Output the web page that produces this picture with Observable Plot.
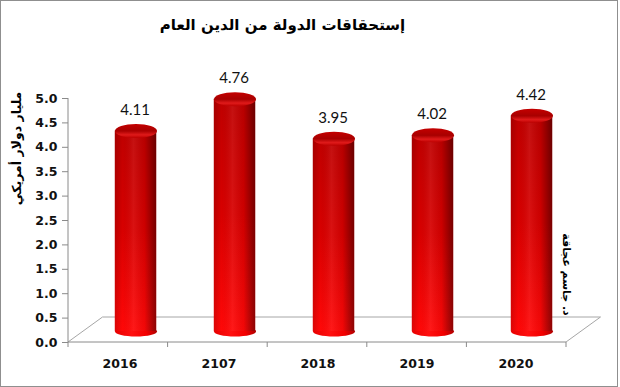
<!DOCTYPE html>
<html><head><meta charset="utf-8">
<script src="https://cdn.jsdelivr.net/npm/d3@7"></script>
<script src="https://cdn.jsdelivr.net/npm/@observablehq/plot@0.6"></script>
<style>
body{margin:0;background:#fff}
#wrap{position:relative;width:620px;height:387px}
#border{position:absolute;left:0;top:0;width:618px;height:387px;border:1px solid #8f8f8f;box-sizing:border-box;pointer-events:none}
</style>
</head><body><div id="wrap"><div id="border"></div></div>
<script>
const years = ["2016", "2107", "2018", "2019", "2020"];
const values = [4.11, 4.76, 3.95, 4.02, 4.42];
const yTicks = [0, 0.5, 1, 1.5, 2, 2.5, 3, 3.5, 4, 4.5, 5];
const title = "إستحقاقات الدولة من الدين العام";
const yLabel = "مليار دولار أمريكي";
const sourceNote = "د. جاسم عجاقة";

const data = years.map((year, i) => ({year, value: values[i]}));

function ellipse(rx, ry) {
  const k = 0.5523;
  return {draw(c) {
    c.moveTo(rx, 0);
    c.bezierCurveTo(rx, ry * k, rx * k, ry, 0, ry);
    c.bezierCurveTo(-rx * k, ry, -rx, ry * k, -rx, 0);
    c.bezierCurveTo(-rx, -ry * k, -rx * k, -ry, 0, -ry);
    c.bezierCurveTo(rx * k, -ry, rx, -ry * k, rx, 0);
    c.closePath();
  }};
}

function defs() {
  const d = d3.create("svg:defs");
  const lin = (id, x2, y2, stops) => {
    const g = d.append("linearGradient").attr("id", id).attr("x1", 0).attr("y1", 0).attr("x2", x2).attr("y2", y2);
    for (const [o, c, a] of stops) g.append("stop").attr("offset", o).attr("stop-color", c).attr("stop-opacity", a ?? 1);
  };
  lin("body", 0, 1, [[0, "#bf0000"], [0.5, "#d80000"], [1, "#ff0808"]]);
  lin("shade", 1, 0, [[0, "#000", 0.14], [0.18, "#000", 0], [0.45, "#fff", 0.07], [0.72, "#000", 0.05], [1, "#000", 0.45]]);
  lin("bottom", 1, 0, [[0, "#e80000"], [0.4, "#ff1010"], [0.75, "#f20000"], [1, "#b00000"]]);
  lin("top", 0, 1, [[0, "#c40000"], [0.5, "#a80000"], [0.78, "#e01a1a"], [1, "#bb0000"]]);
  return d.node();
}

function floor(index, scales, values, dims) {
  const {width, height, marginLeft, marginRight, marginTop, marginBottom} = dims;
  const x0 = marginLeft, x1 = width - marginRight, y0 = height - marginBottom;
  const ddx = 34.5, ddy = 25;
  const g = d3.create("svg:g").attr("fill", "none").attr("stroke", "#a6a6a6");
  g.append("path").attr("d", `M${x0},${y0}L${x0 + ddx},${y0 - ddy}L${x1 + ddx},${y0 - ddy}L${x1},${y0}`);
  g.append("line").attr("x1", x0).attr("x2", x1).attr("y1", y0).attr("y2", y0).attr("stroke", "#8a8a8a");
  g.append("line").attr("x1", x0).attr("x2", x0).attr("y1", marginTop).attr("y2", y0).attr("stroke", "#8a8a8a");
  const bw = (x1 - x0) / years.length;
  for (let i = 0; i <= years.length; i++) {
    g.append("line").attr("x1", x0 + i * bw).attr("x2", x0 + i * bw).attr("y1", y0).attr("y2", y0 + 5).attr("stroke", "#8a8a8a");
  }
  return g.node();
}

const DX = 16, DY = -11;
const chart = Plot.plot({
  width: 620,
  height: 387,
  marginLeft: 68,
  marginRight: 54,
  marginTop: 98,
  marginBottom: 45,
  style: {fontFamily: "DejaVu Sans", background: "transparent", color: "#000"},
  x: {domain: years, paddingInner: 0, paddingOuter: 0},
  y: {domain: [0, 5]},
  marks: [
    defs,
    floor,
    Plot.axisY({ticks: yTicks, tickFormat: d => d.toFixed(1), tickSize: 6, tickPadding: 5, fontWeight: "bold", fontSize: 12.5, stroke: "#8a8a8a", fill: "#111", label: null}),
    Plot.axisX({tickSize: 0, tickPadding: 17, fontWeight: "bold", fontSize: 12.5, fill: "#111", label: null}),
    Plot.dot(data, {x: "year", y: d => 0, dx: DX, dy: DY, symbol: ellipse(21, 5), fill: "url(#bottom)", stroke: "none"}),
    Plot.barY(data, {x: "year", y: "value", dx: DX, dy: DY, insetLeft: 28.8, insetRight: 28.8, fill: "url(#body)"}),
    Plot.barY(data, {x: "year", y: "value", dx: DX, dy: DY, insetLeft: 28.8, insetRight: 28.8, fill: "url(#shade)"}),
    Plot.dot(data, {x: "year", y: "value", dx: DX, dy: DY, symbol: ellipse(21, 7), fill: "url(#top)", stroke: "none"}),
    Plot.text(data, {x: "year", y: "value", text: d => d.value.toFixed(2), dx: 15, dy: -32, fontFamily: "Lato", fontSize: 15, fill: "#111"}),
    Plot.text([title], {frameAnchor: "top", text: d => d, textAnchor: "middle", dx: -35, dy: -79, fontSize: 15, fontWeight: "bold", fill: "#000"}),
    Plot.text([yLabel], {frameAnchor: "top-left", text: d => d, textAnchor: "middle", rotate: -90, dx: -56, dy: 50, fontSize: 12.5, fontWeight: "bold", fill: "#000"}),
    Plot.text([sourceNote], {frameAnchor: "top-right", text: d => d, textAnchor: "middle", rotate: 90, dx: 4, dy: 176, fontSize: 11, fontWeight: "bold", fill: "#000"})
  ]
});
document.getElementById("wrap").prepend(chart);
</script>
</body></html>
